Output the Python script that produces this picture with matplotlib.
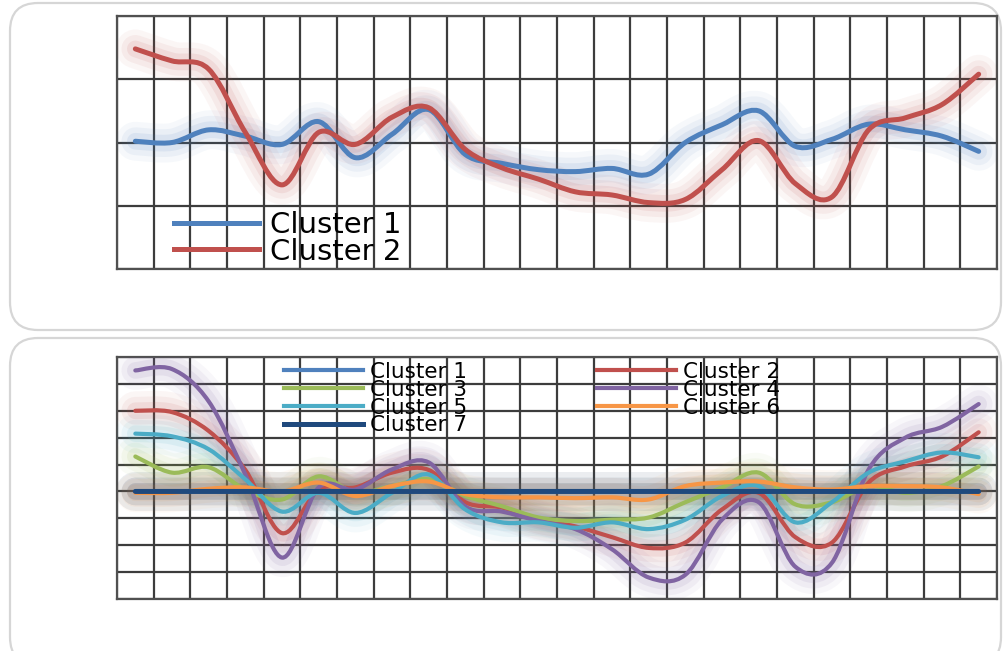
import numpy as np
import matplotlib
matplotlib.use("Agg")
import matplotlib.pyplot as plt
from matplotlib.path import Path
from matplotlib.patches import PathPatch, FancyBboxPatch
from matplotlib.lines import Line2D
from matplotlib.transforms import IdentityTransform

plt.rcParams['font.family'] = ['Liberation Sans', 'DejaVu Sans']

# 24 categories, one value per category
positions = np.arange(24)

# TOP PANEL (2 clusters)
top_c1 = [0.02, 0.0, 0.2, 0.1, -0.03, 0.33, -0.24, 0.13, 0.52, -0.19, -0.33, -0.43,
          -0.46, -0.41, -0.5, 0.0, 0.28, 0.5, -0.06, 0.05, 0.29, 0.2, 0.1, -0.14]
top_c2 = [1.48, 1.29, 1.16, 0.16, -0.67, 0.16, -0.03, 0.4, 0.55, -0.11, -0.4, -0.58,
          -0.78, -0.83, -0.95, -0.9, -0.43, 0.03, -0.65, -0.86, 0.2, 0.39, 0.6, 1.08]

# BOTTOM PANEL (7 clusters)
bot_c1 = [0.0] * 24
bot_c2 = [3.0, 2.95, 2.25, 0.8, -1.55, 0.07, 0.15, 0.7, 0.8, -0.4, -0.6, -1.05,
          -1.3, -1.7, -2.1, -1.9, -0.67, -0.05, -1.7, -1.9, 0.33, 0.93, 1.3, 2.2]
bot_c3 = [1.3, 0.7, 0.9, 0.07, -0.3, 0.56, -0.05, 0.2, 0.45, -0.17, -0.55, -0.97,
          -1.1, -1.05, -0.97, -0.4, 0.15, 0.7, -0.48, -0.4, 0.2, -0.05, 0.2, 0.93]
bot_c4 = [4.5, 4.55, 3.35, 0.63, -2.46, 0.15, 0.07, 0.82, 1.08, -0.56, -0.75, -1.1,
          -1.4, -2.15, -3.2, -3.1, -1.05, -0.4, -2.8, -2.65, 0.82, 2.0, 2.4, 3.25]
bot_c5 = [2.15, 2.05, 1.57, 0.45, -0.75, -0.05, -0.8, -0.05, 0.63, -0.67, -1.15, -1.15,
          -1.35, -1.15, -1.4, -1.05, -0.17, 0.2, -1.15, -0.4, 0.7, 1.12, 1.45, 1.27]
bot_c6 = [-0.05, -0.05, 0.1, 0.15, 0.0, 0.33, -0.17, 0.2, 0.37, -0.1, -0.22, -0.22,
          -0.25, -0.22, -0.3, 0.2, 0.33, 0.37, 0.15, 0.07, 0.2, 0.2, 0.15, -0.1]
bot_c7 = [0.0] * 24

BLUE, RED, GREEN, PURPLE = '#4F81BD', '#C0504D', '#9BBB59', '#8064A2'
CYAN, ORANGE, NAVY = '#4BACC6', '#F79646', '#1F497D'


def smooth_path(x, y):
    # bezier path through the points (like a smoothed office line)
    pts = np.column_stack([x, y]).astype(float)
    n = len(pts)
    verts = [pts[0]]
    codes = [Path.MOVETO]
    for i in range(n - 1):
        p0 = pts[max(i - 1, 0)]
        p1 = pts[i]
        p2 = pts[i + 1]
        p3 = pts[min(i + 2, n - 1)]
        verts += [p1 + (p2 - p0) / 6, p2 - (p3 - p1) / 6, p2]
        codes += [Path.CURVE4] * 3
    return Path(verts, codes)


def draw_series(ax, y, color, lw, glow_color=None):
    path = smooth_path(positions, y)
    gc = glow_color or color
    for w, a in [(28, 0.05), (20, 0.07), (12, 0.1)]:
        ax.add_patch(PathPatch(path, fill=False, edgecolor=gc, lw=w, alpha=a,
                               capstyle='round', joinstyle='round', zorder=3))
    ax.add_patch(PathPatch(path, fill=False, edgecolor=color, lw=lw,
                           capstyle='round', joinstyle='round', zorder=4))
    return Line2D([], [], color=color, lw=lw)


def style_axes(ax, ymin, ymax):
    ax.set_xlim(-0.5, 23.5)
    ax.set_ylim(ymin, ymax)
    ax.set_xticks(np.arange(-0.5, 24, 1))
    ax.set_yticks(np.arange(ymin, ymax + 1, 1))
    ax.tick_params(length=0, labelbottom=False, labelleft=False)
    ax.grid(True, color='#3c3c3c', lw=1.6, zorder=1)
    ax.set_axisbelow(True)
    for s in ax.spines.values():
        s.set_color('#505050')
        s.set_linewidth(1.6)


fig = plt.figure(figsize=(10.07, 6.51), dpi=100)

# PANEL BOXES
for (x0, y0, w, h) in [(10, 321, 991, 327), (10, -14, 991, 327)]:
    fig.add_artist(FancyBboxPatch((x0, y0), w, h,
                                  boxstyle='round,pad=0,rounding_size=28',
                                  transform=IdentityTransform(), facecolor='white',
                                  edgecolor='#d6d6d6', lw=1.6, zorder=0))

# TOP CHART
ax1 = fig.add_axes([117 / 1007, 382 / 651, 880 / 1007, 253 / 651])
ax1.patch.set_alpha(0)
style_axes(ax1, -2, 2)
h1 = draw_series(ax1, top_c1, BLUE, 3.6)
h2 = draw_series(ax1, top_c2, RED, 3.6)
ax1.legend([h1, h2], ['Cluster 1', 'Cluster 2'], loc='upper left',
           bbox_to_anchor=(0.065, 0.228), frameon=False,
           prop={'family': 'DejaVu Sans', 'size': 21},
           handlelength=2.9, handletextpad=0.38, labelspacing=-0.06,
           borderpad=0, borderaxespad=0)

# BOTTOM CHART
ax2 = fig.add_axes([117 / 1007, 52 / 651, 880 / 1007, 242 / 651])
ax2.patch.set_alpha(0)
style_axes(ax2, -4, 5)
g1 = draw_series(ax2, bot_c1, BLUE, 3.0)
g2 = draw_series(ax2, bot_c2, RED, 3.0)
g3 = draw_series(ax2, bot_c3, GREEN, 3.0)
g4 = draw_series(ax2, bot_c4, PURPLE, 3.0)
g5 = draw_series(ax2, bot_c5, CYAN, 3.0)
g6 = draw_series(ax2, bot_c6, ORANGE, 3.0)
g7 = draw_series(ax2, bot_c7, NAVY, 3.6, glow_color='#303030')
ax2.legend([g1, g3, g5, g7, g2, g4, g6],
           ['Cluster 1', 'Cluster 3', 'Cluster 5', 'Cluster 7',
            'Cluster 2', 'Cluster 4', 'Cluster 6'],
           ncol=2, loc='upper left', bbox_to_anchor=(0.19, 0.98), frameon=False,
           prop={'family': 'DejaVu Sans', 'size': 15.5},
           handlelength=3.67, handletextpad=0.33, labelspacing=-0.1,
           columnspacing=6.0, borderpad=0, borderaxespad=0)

fig.savefig('out.png', dpi=100)
